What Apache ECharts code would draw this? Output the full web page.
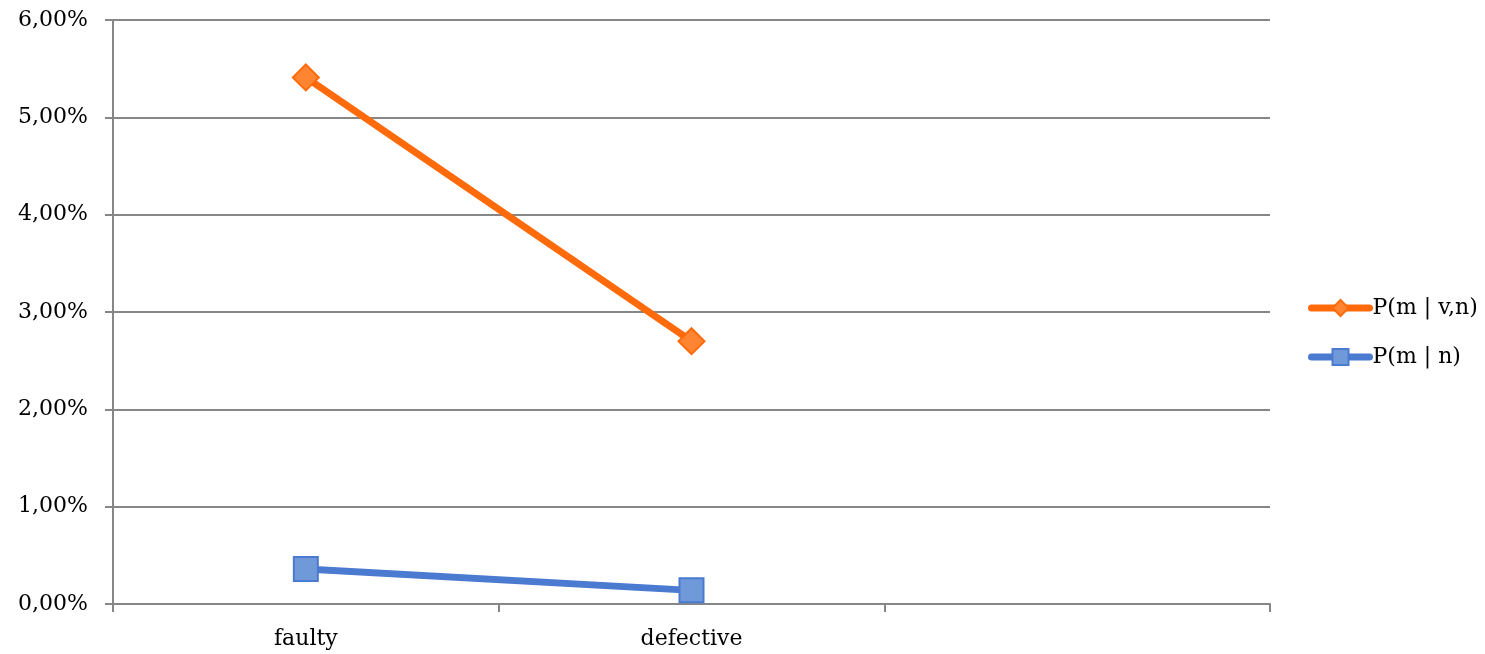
<!DOCTYPE html>
<html><head><meta charset="utf-8">
<script src="https://cdn.jsdelivr.net/npm/echarts@6/dist/echarts.min.js"></script>
<style>html,body{margin:0;padding:0;background:#fff}#c{width:1485px;height:654px}</style>
</head><body><div id="c"></div>
<script>
const categories = ["faulty", "defective", ""];
const seriesNames = ["P(m | v,n)", "P(m | n)"];
const pmvn = [5.41, 2.70, null];
const pmn = [0.36, 0.14, null];
const yTicks = [0, 1, 2, 3, 4, 5, 6];

const font = '"DejaVu Serif", "Liberation Serif", serif';
const chart = echarts.init(document.getElementById('c'));
chart.setOption({
  animation: false,
  backgroundColor: '#fff',
  grid: {left: 113, right: 215, top: 20, bottom: 50, containLabel: false},
  legend: {
    orient: 'vertical', left: 1303, top: 292, itemGap: 27,
    itemWidth: 58, itemHeight: 20,
    textStyle: {fontFamily: font, fontSize: 22, color: '#000', padding: [0,0,0,-2]},
    data: [
      {name: seriesNames[0], lineStyle: {width: 7, cap: 'round'}},
      {name: seriesNames[1], lineStyle: {width: 7, cap: 'round'}}
    ]
  },
  xAxis: {
    type: 'category', data: categories, boundaryGap: true,
    axisLine: {lineStyle: {color: '#868686', width: 2}},
    axisTick: {show: true, length: 8, interval: 0, lineStyle: {color: '#868686', width: 2}},
    axisLabel: {fontFamily: font, fontSize: 22, color: '#000', margin: 24, interval: 0},
    splitLine: {show: false}
  },
  yAxis: {
    type: 'value', min: yTicks[0], max: yTicks[yTicks.length-1], interval: 1,
    axisLine: {show: true, lineStyle: {color: '#868686', width: 2}},
    axisTick: {show: true, length: 8, lineStyle: {color: '#868686', width: 2}},
    axisLabel: {fontFamily: font, fontSize: 22, color: '#000', margin: 25,
      formatter: v => v.toFixed(2).replace('.', ',') + '%'},
    splitLine: {show: true, lineStyle: {color: '#868686', width: 2}}
  },
  series: [
    {
      name: seriesNames[0], type: 'line', data: pmvn,
      symbol: 'diamond', symbolSize: 26,
      lineStyle: {color: '#FF6A0A', width: 7},
      itemStyle: {color: '#FF8533', borderColor: '#FF6A0A', borderWidth: 2},
      z: 3
    },
    {
      name: seriesNames[1], type: 'line', data: pmn,
      symbol: 'rect', symbolSize: 24,
      lineStyle: {color: '#4A7BD0', width: 7},
      itemStyle: {color: '#7099DA', borderColor: '#4A7BD0', borderWidth: 2},
      z: 2
    }
  ]
});
</script></body></html>
